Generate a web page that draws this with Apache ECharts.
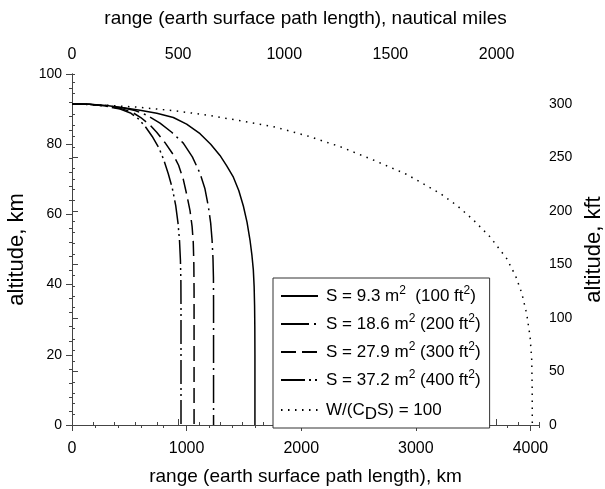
<!DOCTYPE html>
<html>
<head>
<meta charset="utf-8">
<script src="https://cdn.jsdelivr.net/npm/echarts@6/dist/echarts.min.js"></script>
<style>
html,body{margin:0;padding:0;background:#fff;}
#chart{width:605px;height:489px;}
</style>
</head>
<body>
<div id="chart"></div>
<script>
// ---- data (range km, altitude km) ----
var seriesNames = [
  'S = 9.3 m2  (100 ft2)',
  'S = 18.6 m2 (200 ft2)',
  'S = 27.9 m2 (300 ft2)',
  'S = 37.2 m2 (400 ft2)',
  'W/(CDS) = 100'
];
var s93 = [[0,91.44],[150,91.35],[300,91.0],[450,90.4],[593,89.7],[740,88.8],[884,87.6],[1000,85.7],[1117,83.0],[1210,80.0],[1291,76.8],[1350,73.8],[1408,70.6],[1455,66.8],[1495,62.4],[1527,57.8],[1553,52.7],[1570,48.3],[1582,44.2],[1589,39.5],[1593,34],[1595,28],[1596,20],[1596,0]];
var s186 = [[0,91.44],[150,91.35],[300,91.0],[450,90.3],[550,89.6],[650,88.3],[768,86.0],[870,83.4],[971,80.3],[1050,76.4],[1117,71.7],[1160,67.3],[1190,62.2],[1210,57.5],[1222,52.7],[1230,47.5],[1234,42],[1235,35],[1235,0]];
var s279 = [[0,91.44],[150,91.35],[300,90.9],[420,90.2],[520,89.2],[600,87.6],[680,85.5],[739,83.4],[810,80.5],[884,77.0],[930,74.0],[971,70.0],[1002,65.5],[1030,61.0],[1048,56.5],[1058,52],[1063,46],[1065,38],[1065,0]];
var s372 = [[0,91.44],[150,91.35],[300,90.8],[420,90.0],[510,88.9],[580,87.2],[640,85.0],[700,82.2],[760,78.8],[800,75.6],[840,71.6],[875,67.5],[905,62.5],[925,57.5],[938,52.5],[946,47.0],[950,41],[951,34],[951,0]];
var w100 = [[0,91.44],[300,91.1],[593,90.5],[900,89.5],[1175,88.3],[1450,86.8],[1757,85.0],[2050,82.4],[2339,79.3],[2629,75.5],[2920,71.4],[3211,66.0],[3360,62.5],[3502,58.4],[3647,53.6],[3793,47.4],[3870,42.5],[3925,37.5],[3968,31.5],[3997,25],[4011,18.5],[4015,10],[4016,0]];

var kmTicks = [0, 1000, 2000, 3000, 4000];
var nmiTicks = [0, 500, 1000, 1500, 2000];
var altKmTicks = [0, 20, 40, 60, 80, 100];
var altKftTicks = [0, 50, 100, 150, 200, 250, 300];

var KM_PER_NMI = 1.852;
var FT_PER_KM = 3.28084;
var xMaxNmi = 2200;
var xMaxKm = xMaxNmi * KM_PER_NMI;
var yMaxKm = 100;
var yMaxKft = yMaxKm * FT_PER_KM;

var FONT = '"Liberation Sans", Arial, sans-serif';
var AX = '#444';

function labelFmt(list) {
  return function (v) {
    for (var i = 0; i < list.length; i++) { if (Math.abs(list[i] - v) < 1e-6) return String(list[i]); }
    return '';
  };
}

function xAxis(pos, max, interval, major, ticks, name, nameGap) {
  return {
    type: 'value', position: pos, min: 0, max: max, interval: interval,
    name: name || '', nameLocation: 'middle', nameGap: nameGap || 0,
    nameTextStyle: {fontFamily: FONT, fontSize: 19, color: '#000'},
    axisLine: {show: major, lineStyle: {color: AX, width: 1}},
    axisTick: {show: true, inside: false, length: major ? 6 : 3, lineStyle: {color: AX}},
    axisLabel: {show: major, showMaxLabel: false, margin: pos === 'top' ? 11 : 16,
      formatter: ticks ? labelFmt(ticks) : null,
      fontFamily: FONT, fontSize: 16, color: '#000'},
    splitLine: {show: false}
  };
}
function yAxis(pos, max, interval, major, ticks, name, nameGap) {
  return {
    type: 'value', position: pos, min: 0, max: max, interval: interval,
    name: name || '', nameLocation: 'middle', nameGap: nameGap || 0,
    nameRotate: 90,
    nameTextStyle: {fontFamily: FONT, fontSize: 22, color: '#000'},
    axisLine: {show: major, lineStyle: {color: AX, width: 1}},
    axisTick: {show: true, inside: false, length: major ? 6 : 3, lineStyle: {color: AX}},
    axisLabel: {show: major, showMaxLabel: pos === 'left', margin: 10,
      formatter: ticks ? labelFmt(ticks) : null,
      fontFamily: FONT, fontSize: 14, color: '#000'},
    splitLine: {show: false}
  };
}

var styles = [
  {type: 'solid', width: 1.5},
  {type: [28, 5, 2, 5], width: 1.5},
  {type: [15, 6], width: 1.5},
  {type: [24, 4, 2, 4, 2, 4], width: 1.5},
  {type: [1.5, 5.5], width: 1.5}
];
var datas = [s93, s186, s279, s372, w100];

var legendRich = {
  t: {fontFamily: FONT, fontSize: 17, color: '#000', lineHeight: 20},
  sup: {fontFamily: FONT, fontSize: 12, color: '#000', lineHeight: 12, padding: [0, 0, 10, 0]},
  sub: {fontFamily: FONT, fontSize: 17, color: '#000', lineHeight: 17, padding: [9, 0, 0, 0]}
};
var legendText = {};
legendText[seriesNames[0]] = '{t|S = 9.3 m}{sup|2}{t|  (100 ft}{sup|2}{t|)}';
legendText[seriesNames[1]] = '{t|S = 18.6 m}{sup|2}{t| (200 ft}{sup|2}{t|)}';
legendText[seriesNames[2]] = '{t|S = 27.9 m}{sup|2}{t| (300 ft}{sup|2}{t|)}';
legendText[seriesNames[3]] = '{t|S = 37.2 m}{sup|2}{t| (400 ft}{sup|2}{t|)}';
legendText[seriesNames[4]] = '{t|W/(C}{sub|D}{t|S) = 100}';

var chart = echarts.init(document.getElementById('chart'), null, {renderer: 'canvas'});
chart.setOption({
  animation: false,
  backgroundColor: '#fff',
  grid: {left: 72, right: 66, top: 74, bottom: 64, containLabel: false, outerBoundsMode: 'none'},
  xAxis: [
    xAxis('bottom', xMaxKm, 1000, true, kmTicks, 'range (earth surface path length), km', 42),
    xAxis('bottom', xMaxKm, 200, false),
    xAxis('top', xMaxNmi, 500, true, nmiTicks, 'range (earth surface path length), nautical miles', 46),
    xAxis('top', xMaxNmi, 100, false)
  ],
  yAxis: [
    yAxis('left', yMaxKm, 20, true, altKmTicks, 'altitude, km', 42),
    yAxis('left', yMaxKm, 4, false),
    yAxis('right', yMaxKft, 50, true, altKftTicks, 'altitude, kft', 43),
    yAxis('right', yMaxKft, 10, false)
  ],
  legend: {
    orient: 'vertical', left: 273, top: 278,
    backgroundColor: '#fff', borderColor: '#333', borderWidth: 1,
    padding: [7, 9, 5, 7], itemGap: 6, itemWidth: 37, itemHeight: 14,
    data: seriesNames,
    itemStyle: {color: 'rgba(0,0,0,0)', borderWidth: 0, opacity: 0},
    formatter: function (n) { return legendText[n]; },
    textStyle: {rich: legendRich, padding: [0, 0, 0, 3]}
  },
  series: datas.map(function (d, i) {
    return {
      name: seriesNames[i], type: 'line', xAxisIndex: 0, yAxisIndex: 0,
      data: d, symbol: 'none', smooth: false, z: 1,
      lineStyle: {color: '#000', width: styles[i].width, type: styles[i].type, cap: 'butt'},
      itemStyle: {color: '#000'}
    };
  })
});
</script>
</body>
</html>
